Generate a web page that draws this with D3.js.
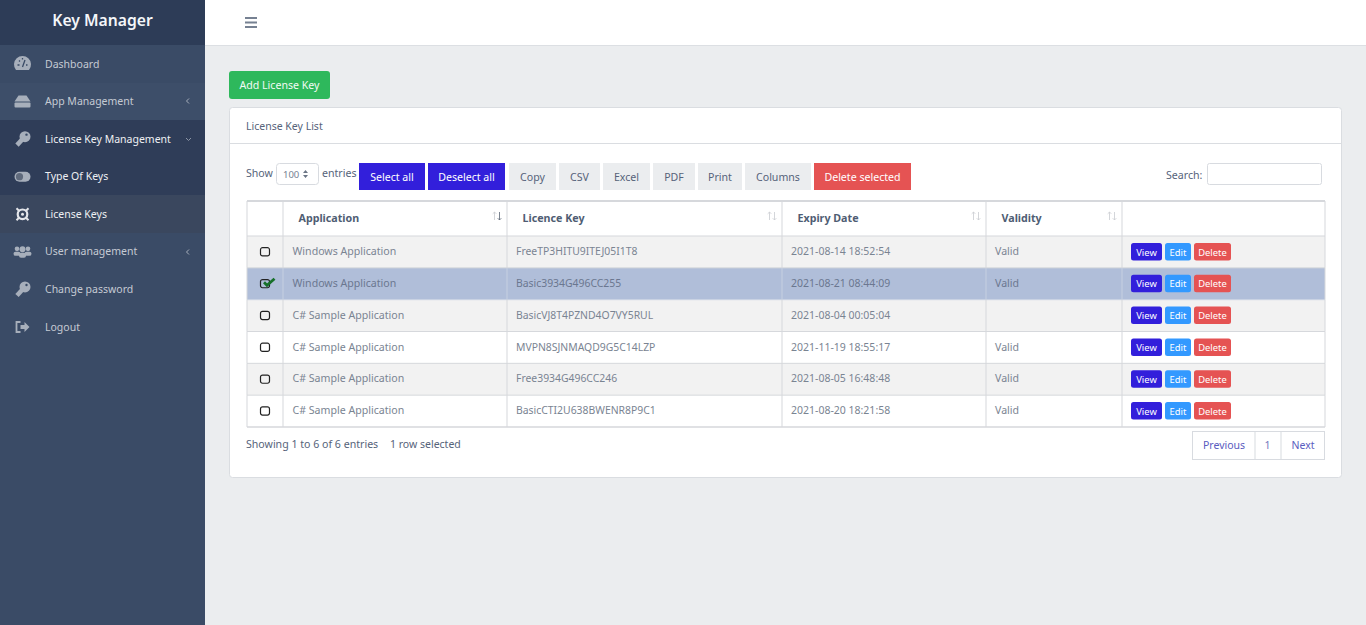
<!DOCTYPE html>
<html>
<head>
<meta charset="utf-8">
<script src="https://cdnjs.cloudflare.com/ajax/libs/d3/7.8.5/d3.min.js"></script>
<style>
html,body{margin:0;padding:0;background:#ebedef;overflow:hidden}
svg{display:block}
text{font-family:"Noto Sans",sans-serif;font-size:11px}
</style>
</head>
<body>
<svg id="page" width="1366" height="625"></svg>
<script>
const menuItems = ["Dashboard","App Management","License Key Management","Type Of Keys","License Keys","User management","Change password","Logout"];
const menuIcons = ["gauge","drive","key","toggle","bug","users","key","logout"];
const toolbarButtons = ["Select all","Deselect all","Copy","CSV","Excel","PDF","Print","Columns","Delete selected"];
const columns = ["","Application","Licence Key","Expiry Date","Validity",""];
const applications = ["Windows Application","Windows Application","C# Sample Application","C# Sample Application","C# Sample Application","C# Sample Application"];
const licenceKeys = ["FreeTP3HITU9ITEJ05I1T8","Basic3934G496CC255","BasicVJ8T4PZND4O7VY5RUL","MVPN8SJNMAQD9G5C14LZP","Free3934G496CC246","BasicCTI2U638BWENR8P9C1"];
const expiryDates = ["2021-08-14 18:52:54","2021-08-21 08:44:09","2021-08-04 00:05:04","2021-11-19 18:55:17","2021-08-05 16:48:48","2021-08-20 18:21:58"];
const validity = ["Valid","Valid","","Valid","Valid","Valid"];
const selectedRow = 1;

const svg = d3.select("#page");

function box(parent, x, y, w, h, fill, stroke, r) {
  return parent.append("rect").attr("x", x).attr("y", y).attr("width", w).attr("height", h)
    .attr("fill", fill).attr("stroke", stroke || "none").attr("rx", r || 0);
}
function label(parent, x, y, s, color, size, anchor, weight) {
  return parent.append("text").attr("x", x).attr("y", y).text(s).attr("fill", color)
    .style("font-size", (size || 10.6) + "px").attr("text-anchor", anchor || "start")
    .attr("font-weight", weight || 400);
}

// sidebar
box(svg, 0, 0, 205, 625, "#3a4b66");
box(svg, 0, 0, 205, 45, "#2d3c57");
box(svg, 0, 83, 205, 37, "#3d4e69");
box(svg, 0, 120, 205, 75, "#2f3d58");
box(svg, 0, 195, 205, 38, "#3a475e");
label(svg, 102.5, 26, "Key Manager", "#f4f6f9", 15.7, "middle", 600);

const menuY = d3.scalePoint().domain(menuItems).range([64, 327]);
const iconColor = "#a7afbb";
function drawIcon(g, kind, color) {
  // rough versions of the icon glyphs, centred on 0,0
  if (kind === "gauge") {
    g.append("path").attr("d", "M-6.5,6A8.5,8.5 0 1 1 6.5,6Z").attr("fill", color);
    g.append("path").attr("d", "M0,3L2.5,-4M-5,1H-3M3.5,1H5M-3.5,-3.5L-2.5,-2.5M0,-6V-4.5")
      .attr("stroke", "#3a4b66").attr("stroke-width", 1.3);
  } else if (kind === "drive") {
    g.append("path").attr("d", "M-8,0L-4,-6H4L8,0Z").attr("fill", color);
    g.append("rect").attr("x", -8).attr("y", 1).attr("width", 16).attr("height", 5).attr("rx", 1).attr("fill", color);
  } else if (kind === "key") {
    g.append("circle").attr("cx", 2.5).attr("cy", -2.5).attr("r", 5.5).attr("fill", color);
    g.append("path").attr("d", "M0,0L-5.5,6").attr("stroke", color).attr("stroke-width", 4.5);
    g.append("circle").attr("cx", 4).attr("cy", -4.5).attr("r", 1.2).attr("fill", "#3a4b66");
  } else if (kind === "toggle") {
    g.append("rect").attr("x", -8).attr("y", -5).attr("width", 16).attr("height", 10).attr("rx", 5).attr("fill", color);
    g.append("circle").attr("cx", -3).attr("cy", 0).attr("r", 3.6).attr("fill", "#5f6a7c");
  } else if (kind === "bug") {
    g.append("circle").attr("r", 4.8).attr("fill", "none").attr("stroke", "#e4e6ea").attr("stroke-width", 2.2);
    g.append("circle").attr("r", 1.5).attr("fill", "#e4e6ea");
    g.append("path").attr("d", "M-6,-6L-3,-3M6,-6L3,-3M-6,6L-3,3M6,6L3,3").attr("stroke", "#e4e6ea").attr("stroke-width", 2);
  } else if (kind === "users") {
    [-5.5, 5.5, 0].forEach((cx, i) => {
      g.append("circle").attr("cx", cx).attr("cy", i === 2 ? -2.5 : -3).attr("r", i === 2 ? 3 : 2.3).attr("fill", color);
      g.append("rect").attr("x", cx - 3.5).attr("y", i === 2 ? 1 : 0).attr("width", 7).attr("height", i === 2 ? 5 : 4).attr("rx", 2).attr("fill", color);
    });
  } else if (kind === "logout") {
    g.append("path").attr("d", "M-2,-5H-6V5H-2").attr("fill", "none").attr("stroke", color).attr("stroke-width", 1.8);
    g.append("path").attr("d", "M-2,-2H2V-5L7,0L2,5V2H-2Z").attr("fill", color);
  }
}
menuItems.forEach((item, i) => {
  const y = menuY(item);
  const active = i >= 2 && i <= 4;
  drawIcon(svg.append("g").attr("transform", `translate(22.5,${y})`), menuIcons[i], iconColor);
  label(svg, 45, y + 3.6, item, active ? "#eef0f3" : "#c5cad3", 10.5);
});
[[188, 101], [188, 252]].forEach(([x, y]) => {
  svg.append("path").attr("d", `M${x + 1},${y - 2.5}L${x - 1.5},${y}L${x + 1},${y + 2.5}`)
    .attr("fill", "none").attr("stroke", "#a7afbb");
});
svg.append("path").attr("d", "M186,138L188.5,140.5L191,138").attr("fill", "none").attr("stroke", "#8c95a5");

// top bar
box(svg, 205, 0, 1161, 45, "#fff");
box(svg, 205, 45, 1161, 1, "#dcdfe3");
[18, 22.5, 27].forEach(y => box(svg, 245, y - 1, 12, 2, "#768192"));

// add button
box(svg, 229, 71, 101, 28, "#2eb85c", null, 3);
label(svg, 279.5, 89, "Add License Key", "#f2fbf5", 10.6, "middle");

// card
box(svg, 229.5, 107.5, 1112, 370, "#fff", "#dadde1", 3);
box(svg, 230, 143, 1111, 1, "#dadde1");
label(svg, 246, 130, "License Key List", "#56637a", 10.5);

// length select
label(svg, 246, 176.5, "Show", "#56637a", 10.6);
box(svg, 276.5, 163.5, 42, 21, "#fff", "#d8dbe0", 3);
label(svg, 283, 178, "100", "#768192", 9.5);
svg.append("path").attr("d", "M303,173L305.5,170L308,173ZM303,175L305.5,178L308,175Z").attr("fill", "#6b7585");
label(svg, 322, 176.5, "entries", "#56637a", 10.6);

// toolbar buttons
const btnEdges = [[359, 425], [428, 505], [509, 556], [559, 600], [603, 650], [653, 695], [698, 742], [745, 811], [814, 911]];
const btnFill = i => i < 2 ? "#321fdb" : i === 8 ? "#e55353" : "#ebedef";
toolbarButtons.forEach((b, i) => {
  const [x0, x1] = btnEdges[i];
  box(svg, x0, 163, x1 - x0, 27, btnFill(i));
  label(svg, (x0 + x1) / 2, 181, b, (i < 2 || i === 8) ? "#fff" : "#56637a", 10.6, "middle");
});

// search
label(svg, 1166, 178.5, "Search:", "#56637a", 10.6);
box(svg, 1207.5, 163.5, 114, 21, "#fff", "#d8dbe0", 2);

// table
const colEdges = [247, 283, 507, 782, 986, 1122, 1325];
const rowScale = d3.scaleBand().domain(d3.range(applications.length)).range([236, 427]);
const table = svg.append("g");
box(table, 247, 201, 1078, 35, "#fff");
applications.forEach((a, i) => {
  const y = rowScale(i), h = rowScale.bandwidth();
  const fill = i === selectedRow ? "#b0bed9" : (i % 2 === 0 ? "#f2f2f2" : "#fff");
  box(table, 247, y, 1078, h, fill);
  const cy = y + h / 2 + 3.2;
  const textColor = i === selectedRow ? "#6b7790" : "#7a8492";
  label(table, 292.5, cy, a, textColor, 10.6);
  label(table, 516, cy, licenceKeys[i], textColor, 10.4);
  label(table, 791, cy, expiryDates[i], textColor, 10.5);
  label(table, 995, cy, validity[i], textColor, 10.6);

  // checkbox
  const cb = table.append("g").attr("transform", `translate(265,${y + h / 2})`);
  cb.append("rect").attr("x", -4.5).attr("y", -4.2).attr("width", 9).attr("height", 8.2).attr("rx", 2)
    .attr("fill", "none").attr("stroke", "#222").attr("stroke-width", 1.2);
  if (i === selectedRow) {
    cb.append("path").attr("d", "M-1,-1.5L2,1.5L9.5,-5").attr("fill", "none").attr("stroke", "#17702a").attr("stroke-width", 2.8);
  }

  // action buttons
  const by = y + h / 2 - 9;
  [["View", 1131, 31, "#321fdb"], ["Edit", 1165, 26, "#3399ff"], ["Delete", 1194, 37, "#e55353"]].forEach(([t, x, w, c]) => {
    box(table, x, by, w, 17.5, c, null, 2.5);
    label(table, x + w / 2, by + 12.7, t, "#fff", 9.4, "middle");
  });
});

// grid lines
const gridColor = "#d6d8dc";
[201, 236, 427].forEach(y => box(table, 247, y - 0.5, 1078, 1, gridColor));
box(table, 247, 200, 1078, 2, gridColor);
rowScale.domain().forEach(i => box(table, 247, rowScale(i) + rowScale.bandwidth() - 0.5, 1078, 1, i === selectedRow ? "#c6cfe2" : gridColor));
colEdges.forEach(x => {
  box(table, x - 0.5, 201, 1, 35, gridColor);
  applications.forEach((a, i) => box(table, x - 0.5, rowScale(i), 1, rowScale.bandwidth(),
    i === selectedRow && x > 247 && x < 1325 ? "#c6cfe2" : gridColor));
});

// headers + sort arrows
columns.forEach((c, i) => {
  if (!c) return;
  label(table, colEdges[i] + 15.5, 222, c, "#4f5d73", 10.7, "start", 700);
  const ax = colEdges[i + 1] - 7.5;
  const first = i === 1;
  table.append("path").attr("d", `M${ax - 5},220V212M${ax - 6.8},213.8L${ax - 5},212L${ax - 3.2},213.8`)
    .attr("fill", "none").attr("stroke", "#c9ccd1").attr("stroke-width", 0.8);
  table.append("path").attr("d", `M${ax},212V220M${ax - 1.8},218.2L${ax},220L${ax + 1.8},218.2`)
    .attr("fill", "none").attr("stroke", first ? "#5b6675" : "#c9ccd1").attr("stroke-width", 0.8);
});

// footer
label(svg, 246, 448, "Showing 1 to 6 of 6 entries", "#56637a", 10.6);
label(svg, 390, 448, "1 row selected", "#56637a", 10.5);

// pagination
box(svg, 1192.5, 431.5, 132, 28, "#fff", "#d8dbe0");
[1254.5, 1280.5].forEach(x => box(svg, x, 432, 1, 27, "#d8dbe0"));
label(svg, 1224, 449, "Previous", "#5a5cc0", 10.5, "middle");
label(svg, 1267.5, 449, "1", "#7478bd", 10.5, "middle");
label(svg, 1303, 449, "Next", "#5a5cc0", 10.5, "middle");
</script>
</body>
</html>
